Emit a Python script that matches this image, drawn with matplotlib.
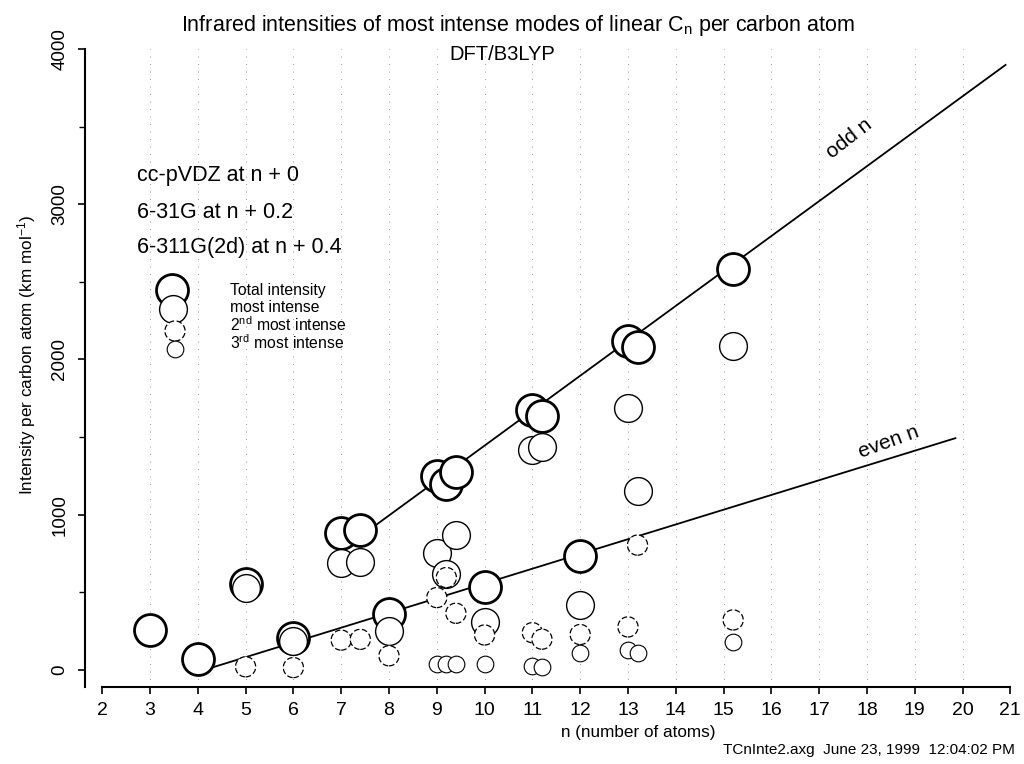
import numpy as np
import matplotlib.pyplot as plt

plt.rcParams['font.family'] = ['Liberation Sans', 'DejaVu Sans']
plt.rcParams['mathtext.fontset'] = 'custom'
plt.rcParams['mathtext.rm'] = 'Liberation Sans'
plt.rcParams['mathtext.it'] = 'Liberation Sans:italic'

# basis sets are shifted along n
basis_labels = ['cc-pVDZ', '6-31G', '6-311G(2d)']
basis_offsets = [0.0, 0.2, 0.4]

# total IR intensity per carbon atom (km/mol), b = index of basis set
total_n = [3, 4, 5, 6, 7, 7, 8, 9, 9, 9, 10, 11, 11, 12, 13, 13, 15]
total_b = [0, 0, 0, 0, 0, 2, 0, 0, 1, 2, 0, 0, 1, 0, 0, 1, 1]
total_I = [255, 68, 555, 205, 882, 899, 362, 1249, 1198, 1276, 537, 1672, 1639, 733, 2116, 2083, 2581]

# most intense mode
most_n = [5, 6, 7, 7, 8, 9, 9, 9, 10, 11, 11, 12, 13, 13, 15]
most_b = [0, 0, 0, 2, 0, 0, 1, 2, 0, 0, 1, 0, 0, 1, 1]
most_I = [530, 185, 688, 693, 252, 756, 615, 872, 311, 1414, 1434, 417, 1686, 1154, 2090]

# 2nd most intense mode
second_n = [5, 6, 7, 7, 8, 9, 9, 9, 10, 11, 11, 12, 13, 13, 15]
second_b = [0, 0, 0, 2, 0, 0, 1, 2, 0, 0, 1, 0, 0, 1, 1]
second_I = [20, 15, 192, 197, 91, 466, 595, 365, 225, 240, 198, 228, 277, 804, 322]

# 3rd most intense mode
third_n = [9, 9, 9, 10, 11, 11, 12, 13, 13, 15]
third_b = [0, 1, 2, 0, 0, 1, 0, 0, 1, 1]
third_I = [41, 41, 41, 36, 27, 20, 109, 130, 110, 178]

# fitted lines through the totals
odd_fit_n = [7.0, 20.9]
odd_fit_I = [770, 3898]
even_fit_n = [4.0, 19.85]
even_fit_I = [-13, 1493]

def xpos(n, b):
    return np.array(n) + np.array(basis_offsets)[np.array(b)]

fig = plt.figure(figsize=(10.24, 7.64), dpi=100)
ax = fig.add_axes([0.083, 0.1008, 0.906, 0.835])

#dotted grid at every n
for n in range(3, 21):
    ax.axvline(n, color='0.45', lw=0.6, ls=(0, (1, 8)), zorder=0)

ax.plot(odd_fit_n, odd_fit_I, color='k', lw=1.3, zorder=1)
ax.plot(even_fit_n, even_fit_I, color='k', lw=1.3, zorder=1)

ax.scatter(xpos(total_n, total_b), total_I, s=529, facecolors='white', edgecolors='k', linewidths=2.0, zorder=2)
ax.scatter(xpos(most_n, most_b), most_I, s=400, facecolors='white', edgecolors='k', linewidths=1.0, zorder=3)
ax.scatter(xpos(second_n, second_b), second_I, s=210, facecolors='white', edgecolors='k', linewidths=0.9,
           linestyles=(0, (4.5, 2)), zorder=4)
ax.scatter(xpos(third_n, third_b), third_I, s=144, facecolors='white', edgecolors='k', linewidths=0.8, zorder=5)

ax.text(17.63, 3421, 'odd n', rotation=38, ha='center', va='center', fontsize=15)
ax.text(18.45, 1468, 'even n', rotation=20, ha='center', va='center', fontsize=15)

ax.set_xlim(1.64, 21.05)
ax.set_ylim(-110, 4000)
ax.set_xticks(range(2, 22))
ax.set_yticks([0, 1000, 2000, 3000, 4000])
ax.set_yticks(range(500, 4000, 1000), minor=True)
ax.spines['top'].set_visible(False)
ax.spines['right'].set_visible(False)
ax.spines['bottom'].set_bounds(2, 21)
ax.spines['bottom'].set_linewidth(1.5)
ax.spines['left'].set_linewidth(1.5)
ax.tick_params(axis='x', direction='out', length=5, width=1.2, labelsize=14, pad=6)
ax.tick_params(axis='y', direction='out', length=5, width=1.2, labelsize=13.5, pad=7, labelrotation=90)
ax.tick_params(axis='y', which='minor', direction='out', length=4, width=1.0)
for lab in ax.get_yticklabels():
    lab.set_va('center')

fig.text(518/1024, 1-25/764, 'Infrared intensities of most intense modes of linear C$_{\\mathrm{n}}$ per carbon atom',
         ha='center', va='center', fontsize=15.5)
fig.text(502/1024, 1-55/764, 'DFT/B3LYP', ha='center', va='center', fontsize=14.5)
fig.text(27/1024, 1-355/764, 'Intensity per carbon atom (km mol$^{\\mathrm{-1}}$)', rotation=90,
         ha='center', va='center', fontsize=12.3)
fig.text(638/1024, 1-733/764, 'n (number of atoms)', ha='center', va='center', fontsize=12.3)
fig.text(1015/1024, 1-750/764, 'TCnInte2.axg  June 23, 1999  12:04:02 PM', ha='right', va='center', fontsize=11)

for i, lab in enumerate(basis_labels):
    fig.text(137/1024, 1-(176+36*i)/764, '%s at n + %g' % (lab, basis_offsets[i]), ha='left', va='center', fontsize=15.5)

# legend of the circle styles
leg_y = [290, 309, 331, 349]
leg_x = [172, 173, 175, 175]
ax.scatter([leg_x[0]/1024], [1-leg_y[0]/764], s=529, facecolors='white', edgecolors='k', linewidths=2.0,
           transform=fig.transFigure, clip_on=False, zorder=6)
ax.scatter([leg_x[1]/1024], [1-leg_y[1]/764], s=400, facecolors='white', edgecolors='k', linewidths=1.0,
           transform=fig.transFigure, clip_on=False, zorder=7)
ax.scatter([leg_x[2]/1024], [1-leg_y[2]/764], s=210, facecolors='white', edgecolors='k', linewidths=0.9,
           linestyles=(0, (4.5, 2)), transform=fig.transFigure, clip_on=False, zorder=8)
ax.scatter([leg_x[3]/1024], [1-leg_y[3]/764], s=144, facecolors='white', edgecolors='k', linewidths=0.8,
           transform=fig.transFigure, clip_on=False, zorder=9)
leg_txt = ['Total intensity', 'most intense', '2$^{\\mathrm{nd}}$ most intense', '3$^{\\mathrm{rd}}$ most intense']
for i, t in enumerate(leg_txt):
    fig.text(230/1024, 1-(290+17.5*i)/764, t, ha='left', va='center', fontsize=11.3)

plt.savefig('out.png', dpi=100)
